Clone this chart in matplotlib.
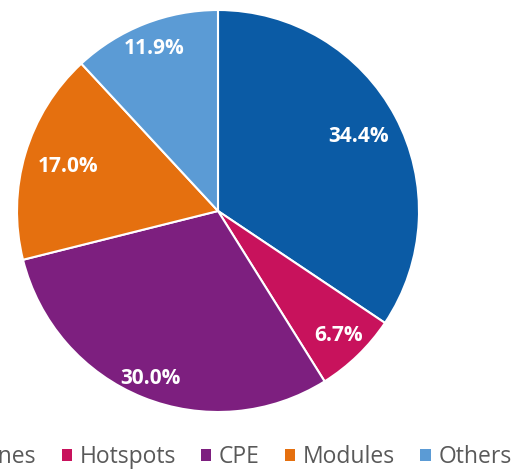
import matplotlib
matplotlib.use("Agg")
import matplotlib.pyplot as plt
from matplotlib.patches import Patch
import numpy as np

categories = ["Phones", "Hotspots", "CPE", "Modules", "Others"]
shares = [34.4, 6.7, 30.0, 17.0, 11.9]
colors = ["#0b5ba5", "#c8125c", "#7d1f7f", "#e5700f", "#5b9bd5"]
label_radius = [0.79, 0.86, 0.90, 0.78, 0.87]

plt.rcParams["font.family"] = ["Open Sans", "DejaVu Sans"]

fig = plt.figure(figsize=(5.19, 4.73), dpi=100)
ax = fig.add_axes([17 / 519, 61 / 473, 402 / 519, 402 / 473])

wedges, texts = ax.pie(
    shares,
    colors=colors,
    startangle=90,
    counterclock=False,
    radius=1.0,
    wedgeprops=dict(edgecolor="white", linewidth=1.5),
)
ax.set_xlim(-1, 1)
ax.set_ylim(-1, 1)
ax.set_aspect("equal")
ax.axis("off")

for w, val, r in zip(wedges, shares, label_radius):
    mid = np.deg2rad((w.theta1 + w.theta2) / 2)
    ax.text(r * np.cos(mid), r * np.sin(mid), f"{val:.1f}%",
            ha="center", va="center", color="white",
            fontsize=15, fontweight="bold")

handles = [Patch(facecolor=c, edgecolor="none") for c in colors]
leg = fig.legend(handles, categories, loc="center left",
                 bbox_to_anchor=(-0.135, 16 / 473), ncol=5, frameon=False,
                 fontsize=16.5, handlelength=0.45, handleheight=0.45,
                 handletextpad=0.33, columnspacing=1.1, labelcolor="#595959",
                 borderaxespad=0)

fig.savefig("out.png", dpi=100)
